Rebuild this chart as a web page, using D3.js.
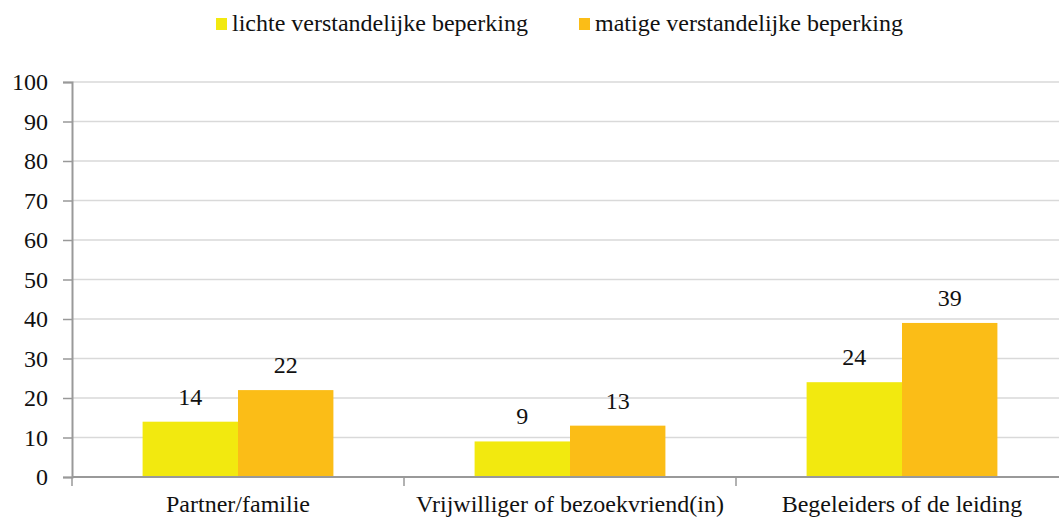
<!DOCTYPE html>
<html>
<head>
<meta charset="utf-8">
<script src="https://cdn.jsdelivr.net/npm/d3@7"></script>
<style>
  body { margin: 0; background: #fff; }
</style>
</head>
<body>
<script>
const categories = ["Partner/familie", "Vrijwilliger of bezoekvriend(in)", "Begeleiders of de leiding"];
const seriesNames = ["lichte verstandelijke beperking", "matige verstandelijke beperking"];
const lichte = [14, 9, 24];
const matige = [22, 13, 39];
const yTicks = [0, 10, 20, 30, 40, 50, 60, 70, 80, 90, 100];
const colors = ["#f2e90f", "#fbbd17"];

const width = 1059;
const height = 517;
const padLeft = 72, padTop = 82, plotRight = 1068, plotBottom = 477;
const font = "Liberation Serif";

const svg = d3.select("body")
    .append("svg")
    .attr("width", width)
    .attr("height", height)
    .attr("font-family", font);

const x = d3.scaleBand()
    .domain(categories)
    .range([padLeft, plotRight]);

const x1 = d3.scaleBand()
    .domain(seriesNames)
    .range([0, x.bandwidth()])
    .paddingOuter(0.74);

const y = d3.scaleLinear()
    .domain([0, 100])
    .range([plotBottom, padTop]);

// gridlines
svg.append("g")
    .selectAll("line")
    .data(yTicks.slice(1))
    .enter()
    .append("line")
    .attr("x1", padLeft)
    .attr("x2", plotRight)
    .attr("y1", d => y(d))
    .attr("y2", d => y(d))
    .attr("stroke", "#d9d9d9")
    .attr("stroke-width", 1.5);

// y axis
const yAxis = svg.append("g")
    .attr("transform", `translate(${padLeft},0)`)
    .call(d3.axisLeft(y).tickValues(yTicks).tickSize(9).tickPadding(15));
yAxis.attr("font-family", font).attr("font-size", 24);
yAxis.select(".domain").attr("stroke", "#999").attr("stroke-width", 2);
yAxis.selectAll(".tick line").attr("stroke", "#999").attr("stroke-width", 1.5);
yAxis.selectAll(".tick text").attr("fill", "#111");

// bars
const data = categories.map((c, i) => ({ cat: c, vals: [lichte[i], matige[i]] }));

const groups = svg.append("g")
    .selectAll("g")
    .data(data)
    .enter()
    .append("g")
    .attr("transform", d => `translate(${x(d.cat)},0)`);

groups.selectAll("rect")
    .data(d => d.vals.map((v, j) => ({ name: seriesNames[j], v: v, j: j })))
    .enter()
    .append("rect")
    .attr("x", d => x1(d.name))
    .attr("width", x1.bandwidth())
    .attr("y", d => y(d.v))
    .attr("height", d => y(0) - y(d.v))
    .attr("fill", d => colors[d.j]);

groups.selectAll("text.val")
    .data(d => d.vals.map((v, j) => ({ name: seriesNames[j], v: v })))
    .enter()
    .append("text")
    .attr("class", "val")
    .attr("x", d => x1(d.name) + x1.bandwidth() / 2)
    .attr("y", d => y(d.v) - 17)
    .attr("text-anchor", "middle")
    .attr("font-size", 24)
    .attr("fill", "#111")
    .text(d => d.v);

// x axis
svg.append("line")
    .attr("x1", padLeft)
    .attr("x2", plotRight)
    .attr("y1", plotBottom)
    .attr("y2", plotBottom)
    .attr("stroke", "#999")
    .attr("stroke-width", 2);

svg.append("g")
    .selectAll("line")
    .data(categories.map(c => x(c)).concat([plotRight]))
    .enter()
    .append("line")
    .attr("x1", d => d)
    .attr("x2", d => d)
    .attr("y1", plotBottom)
    .attr("y2", plotBottom + 9)
    .attr("stroke", "#999")
    .attr("stroke-width", 1.5);

svg.append("g")
    .selectAll("text")
    .data(categories)
    .enter()
    .append("text")
    .attr("x", d => x(d) + x.bandwidth() / 2)
    .attr("y", 512)
    .attr("text-anchor", "middle")
    .attr("font-size", 24)
    .attr("fill", "#111")
    .text(d => d);

// legend
const legendX = [216, 579];
const legend = svg.append("g")
    .selectAll("g")
    .data(seriesNames)
    .enter()
    .append("g")
    .attr("transform", (d, i) => `translate(${legendX[i]},18)`);

legend.append("rect")
    .attr("width", 11)
    .attr("height", 12)
    .attr("fill", (d, i) => colors[i]);

legend.append("text")
    .attr("x", 16)
    .attr("y", 13)
    .attr("font-size", 24)
    .attr("fill", "#111")
    .text(d => d);
</script>
</body>
</html>
